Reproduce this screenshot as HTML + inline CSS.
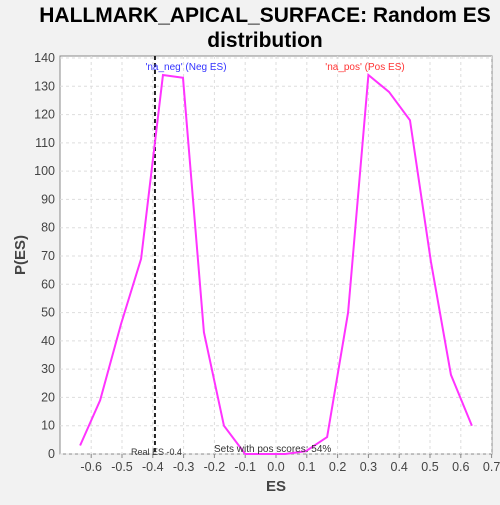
<!DOCTYPE html>
<html><head><meta charset="utf-8"><style>
body{margin:0;background:#f2f2f2;font-family:"Liberation Sans",sans-serif;}
</style></head><body>
<svg width="500" height="500" id="c" font-family="Liberation Sans, sans-serif">
<text x="265" y="22" text-anchor="middle" font-size="21" font-weight="bold">HALLMARK_APICAL_SURFACE: Random ES</text>
<text x="265" y="47" text-anchor="middle" font-size="21" font-weight="bold">distribution</text>
<rect x="60" y="56" width="432" height="398" fill="#fff" stroke="#888"/>
<g id="grid"></g><g id="axes"></g><g id="marks"></g>
<text x="276" y="491" text-anchor="middle" font-size="15" font-weight="bold" fill="#444">ES</text>
<text x="25" y="255" text-anchor="middle" font-size="15" font-weight="bold" fill="#444" transform="rotate(-90 25 255)">P(ES)</text>
<text x="186" y="70" text-anchor="middle" font-size="10" fill="#3333ff">'na_neg' (Neg ES)</text>
<text x="365" y="70" text-anchor="middle" font-size="10" fill="#ff3333">'na_pos' (Pos ES)</text>
<text x="131" y="455" font-size="9" fill="#333">Real ES -0.4</text>
<text x="214" y="452" font-size="10" fill="#333">Sets with pos scores: 54%</text>
</svg>
<script>
const esValues=[-0.636,-0.571,-0.503,-0.438,-0.367,-0.302,-0.234,-0.169,-0.10,-0.036,0.03,0.097,0.166,0.234,0.30,0.367,0.435,0.503,0.568,0.636];
const probValues=[3,19,46,69,134,133,43,10,0,0,0,1,6,50,134,128,118,68,28,10];
const xTicks=[-0.6,-0.5,-0.4,-0.3,-0.2,-0.1,0.0,0.1,0.2,0.3,0.4,0.5,0.6,0.7];
const yTicks=[0,10,20,30,40,50,60,70,80,90,100,110,120,130,140];
const realES=-0.393;
const NS="http://www.w3.org/2000/svg";
const X=v=>276+v*308, Y=v=>454-v*(396/140);
function mk(t,a,p){const e=document.createElementNS(NS,t);for(const k in a)e.setAttribute(k,a[k]);document.getElementById(p).appendChild(e);return e;}
xTicks.forEach(t=>{
 const g=mk('line',{x1:X(t),x2:X(t),y1:56,y2:454,stroke:'#ddd','stroke-dasharray':'3,3'},'grid');
 
 
 const tk=mk('line',{x1:X(t),x2:X(t),y1:454,y2:458,stroke:'#888'},'axes');
 
 
 const l=mk('text',{x:X(t),y:471,'text-anchor':'middle','font-size':12.5,fill:'#444'},'axes');
 l.textContent=t.toFixed(1);
 
 
});
yTicks.forEach(t=>{
 const g=mk('line',{x1:60,x2:492,y1:Y(t),y2:Y(t),stroke:'#ddd','stroke-dasharray':'3,3'},'grid');
 
 
 const l=mk('text',{x:55,y:Y(t)+4,'text-anchor':'end','font-size':12.5,fill:'#444'},'axes');
 l.textContent=t;
 
 
});
const rl=mk('line',{x1:X(realES),x2:X(realES),y1:56,y2:454,stroke:'#222','stroke-width':2,'stroke-dasharray':'4,3'},'marks');


const pl=mk('polyline',{points:esValues.map((v,i)=>X(v)+','+Y(probValues[i])).join(' '),fill:'none',stroke:'#ff33ff','stroke-width':2},'marks');


</script>
</body></html>
